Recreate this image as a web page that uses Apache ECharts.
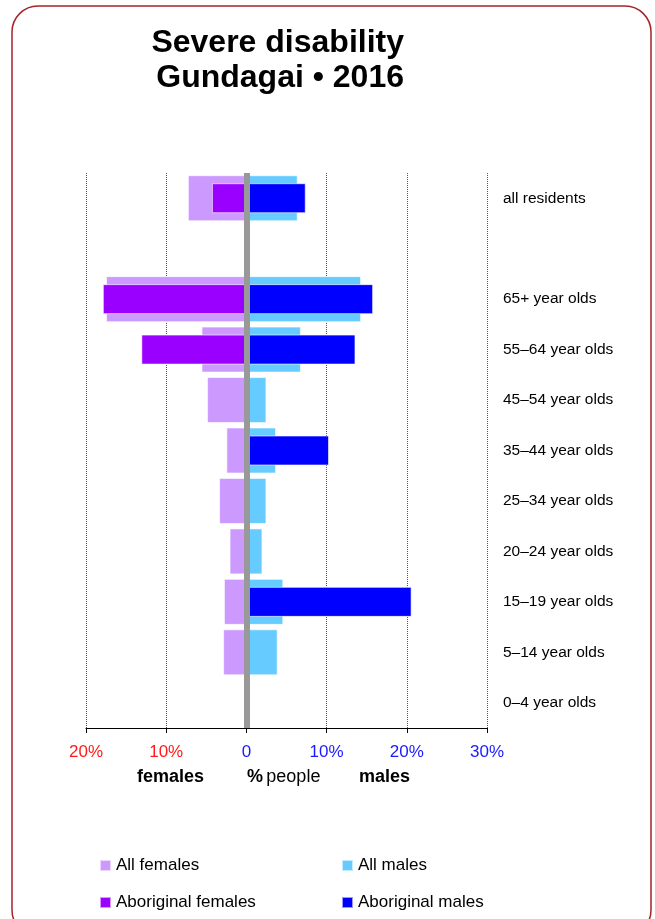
<!DOCTYPE html>
<html>
<head>
<meta charset="utf-8">
<script src="https://cdn.jsdelivr.net/npm/echarts@6/dist/echarts.min.js"></script>
<style>
html,body{margin:0;padding:0;background:#fff;}
#chart{width:655px;height:919px;}
</style>
</head>
<body>
<div id="chart"></div>
<script>
const categories = ['all residents', '', '65+ year olds', '55–64 year olds', '45–54 year olds', '35–44 year olds', '25–34 year olds', '20–24 year olds', '15–19 year olds', '5–14 year olds', '0–4 year olds'];
const allFemales = [7.3, null, 17.5, 5.6, 4.9, 2.5, 3.4, 2.1, 2.8, 2.9, 0];
const allMales   = [6.4, null, 14.3, 6.8, 2.5, 3.7, 2.5, 2.0, 4.6, 3.9, 0];
const aboriginalFemales = [4.3, null, 17.9, 13.1, 0, 0, 0, 0, 0, 0, 0];
const aboriginalMales   = [7.4, null, 15.8, 13.6, 0, 10.3, 0, 0, 20.6, 0, 0];
const tickValues = [-20, -10, 0, 10, 20, 30];
const tickLabels = ['20%', '10%', '0', '10%', '20%', '30%'];

const FONT = '"Liberation Sans", Arial, sans-serif';
const neg = a => a.map(v => v == null ? null : -v);

function legendItem(name, left, top) {
  return {
    data: [name], orient: 'horizontal', left: left, top: top,
    itemWidth: 11, itemHeight: 11, icon: 'rect', itemGap: 0,
    textStyle: {fontSize: 17, color: '#000', fontFamily: FONT}
  };
}

const chart = echarts.init(document.getElementById('chart'), null, {renderer: 'canvas'});
chart.setOption({
  animation: false,
  backgroundColor: '#fff',
  textStyle: {fontFamily: FONT},
  title: {
    text: 'Severe disability\nGundagai • 2016',
    left: 399, top: 21, textAlign: 'right',
    textStyle: {fontFamily: FONT, fontSize: 32, fontWeight: 'bold', color: '#000', lineHeight: 35}
  },
  grid: {left: 86, right: 168, top: 173, bottom: 191, containLabel: false},
  xAxis: {
    type: 'value', min: -20, max: 30, interval: 10,
    axisLine: {show: true, onZero: false, lineStyle: {color: '#000', width: 1}},
    axisTick: {show: true, length: 5, lineStyle: {color: '#000'}},
    splitLine: {show: true, lineStyle: {color: '#555', type: 'dotted', width: 1}},
    axisLabel: {
      margin: 16, fontSize: 17, fontFamily: FONT,
      formatter: function (v) {
        const i = tickValues.indexOf(v);
        const t = i >= 0 ? tickLabels[i] : '';
        return v < 0 ? '{r|' + t + '}' : '{b|' + t + '}';
      },
      rich: {
        r: {color: '#ff1a1a', fontSize: 17, fontFamily: FONT},
        b: {color: '#1a1aff', fontSize: 17, fontFamily: FONT}
      }
    }
  },
  yAxis: [
    {
      type: 'category', data: categories, inverse: true, position: 'right',
      axisLine: {show: false}, axisTick: {show: false}, splitLine: {show: false},
      axisLabel: {margin: 16, fontSize: 15.5, color: '#000', fontFamily: FONT}
    },
    {
      type: 'category', data: categories, inverse: true, position: 'right', show: false
    }
  ],
  legend: [
    legendItem('All females', 94, 852),
    legendItem('Aboriginal females', 94, 889),
    legendItem('All males', 336, 852),
    legendItem('Aboriginal males', 336, 889)
  ],
  graphic: [
    {
      type: 'rect', silent: true,
      shape: {x: 12, y: 6, width: 639, height: 930, r: 26},
      style: {fill: 'none', stroke: '#a3262a', lineWidth: 1.5}
    },
    {
      type: 'text', left: 137, top: 768,
      style: {text: 'females', font: 'bold 18px ' + FONT, fill: '#000'}
    },
    {
      type: 'text', left: 247, top: 768,
      style: {
        text: '{b|%} {n|people}',
        rich: {
          b: {font: 'bold 18px ' + FONT, fill: '#000'},
          n: {font: '18px ' + FONT, fill: '#000'}
        }
      }
    },
    {
      type: 'text', left: 359, top: 768,
      style: {text: 'males', font: 'bold 18px ' + FONT, fill: '#000'}
    }
  ],
  series: [
    {
      name: 'All females', type: 'bar', yAxisIndex: 0, stack: 'all', barWidth: 46,
      itemStyle: {color: '#cc99ff', borderColor: 'rgba(255,255,255,0.6)', borderWidth: 1},
      data: neg(allFemales)
    },
    {
      name: 'All males', type: 'bar', yAxisIndex: 0, stack: 'all', barWidth: 46,
      itemStyle: {color: '#66ccff', borderColor: 'rgba(255,255,255,0.6)', borderWidth: 1},
      data: allMales
    },
    {
      name: 'Aboriginal females', type: 'bar', yAxisIndex: 1, stack: 'ab', barWidth: 30,
      itemStyle: {color: '#9900ff', borderColor: 'rgba(255,255,255,0.6)', borderWidth: 1},
      data: neg(aboriginalFemales)
    },
    {
      name: 'Aboriginal males', type: 'bar', yAxisIndex: 1, stack: 'ab', barWidth: 30,
      itemStyle: {color: '#0000ff', borderColor: 'rgba(255,255,255,0.6)', borderWidth: 1},
      data: aboriginalMales,
      markLine: {
        silent: true, symbol: 'none', label: {show: false}, z: 10,
        lineStyle: {color: '#999', width: 6, type: 'solid'},
        data: [{xAxis: 0}]
      }
    }
  ]
});
</script>
</body>
</html>
